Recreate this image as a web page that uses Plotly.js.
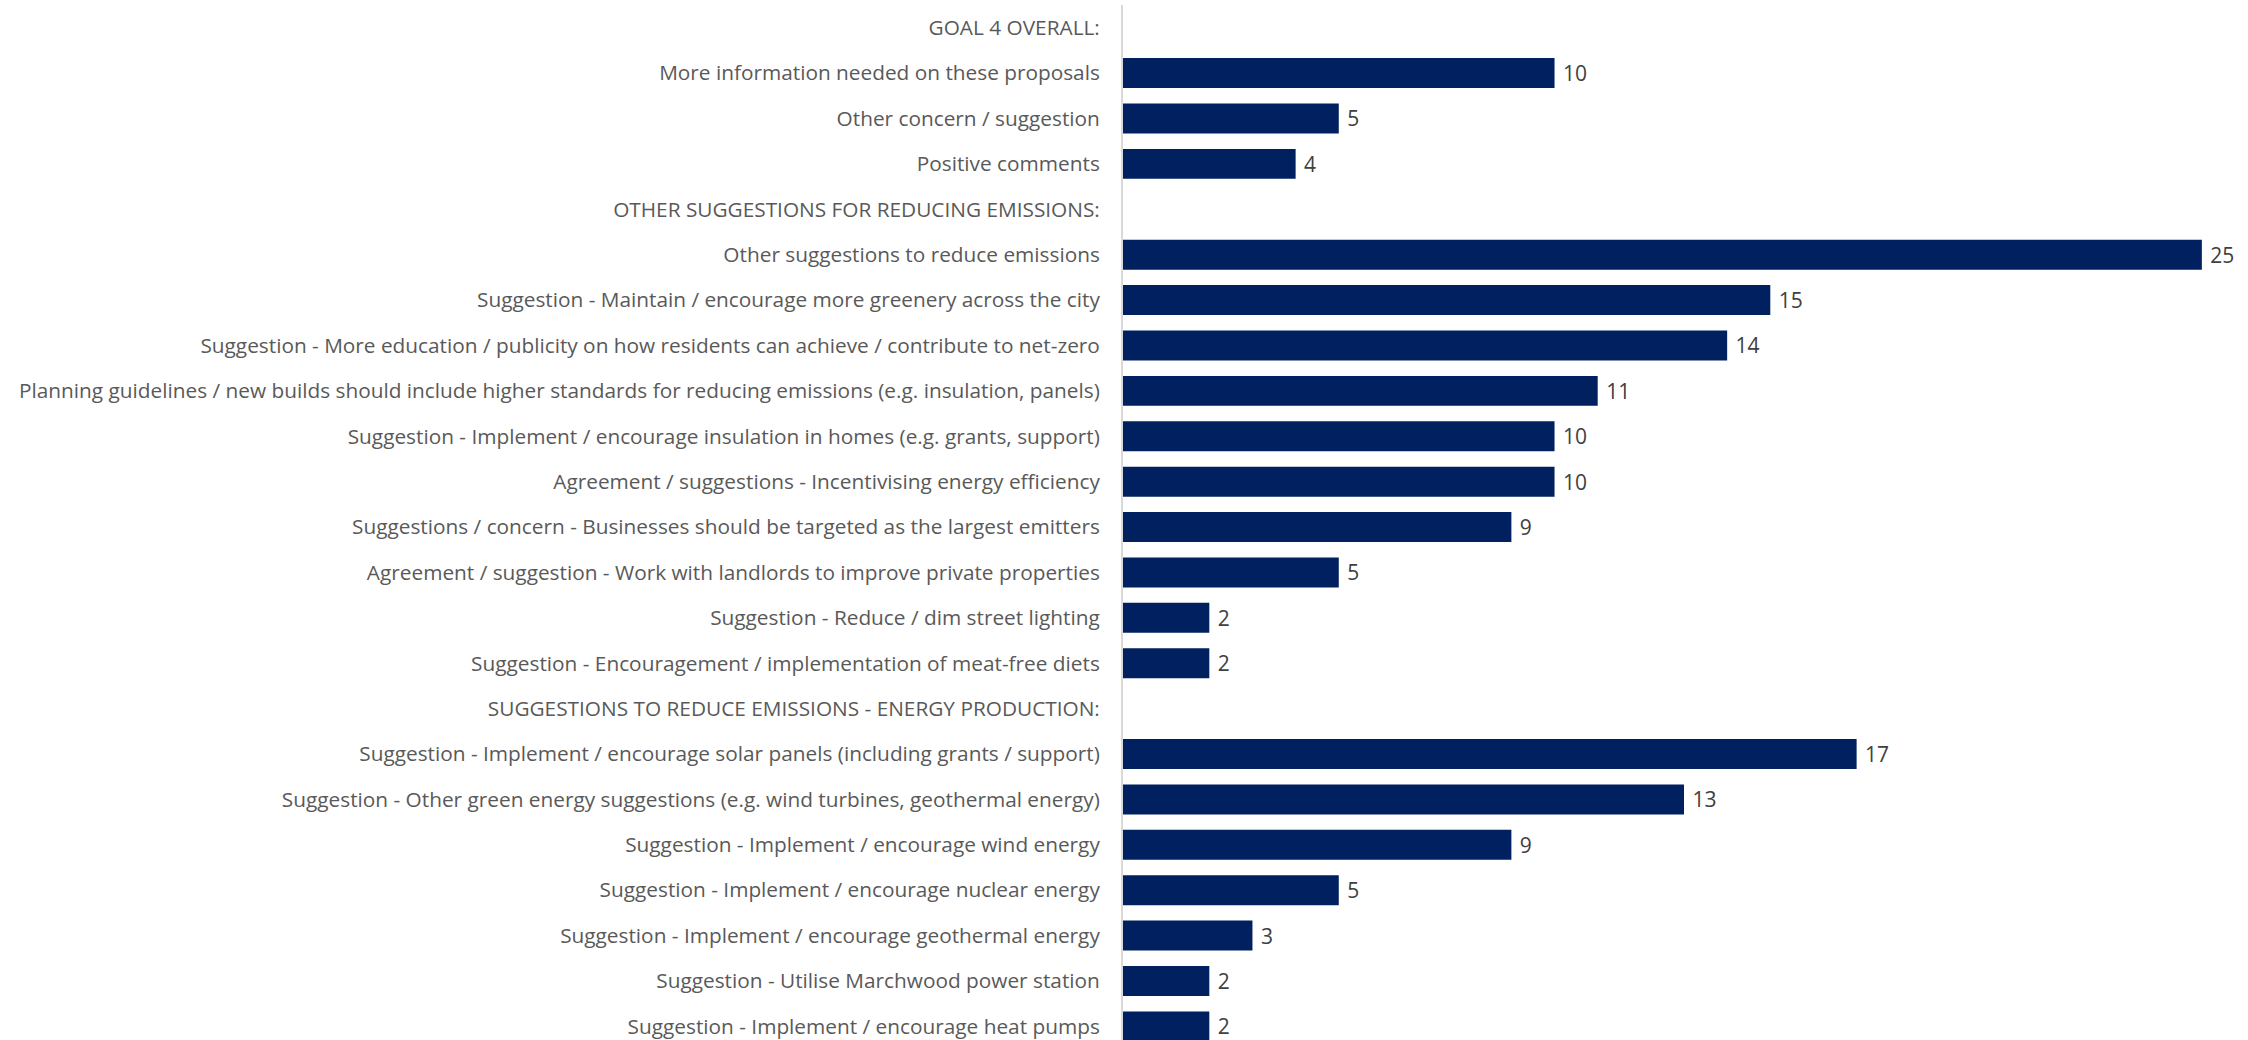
<!DOCTYPE html>
<html>
<head>
<meta charset="utf-8">
<script src="https://cdn.plot.ly/plotly-3.0.1.min.js"></script>
<style>html,body{margin:0;padding:0;background:#fff;}#chart{width:2248px;height:1040px;}</style>
</head>
<body>
<div id="chart"></div>
<script>
var categories = [
  "GOAL 4 OVERALL:",
  "More information needed on these proposals",
  "Other concern / suggestion",
  "Positive comments",
  "OTHER SUGGESTIONS FOR REDUCING EMISSIONS:",
  "Other suggestions to reduce emissions",
  "Suggestion - Maintain / encourage more greenery across the city",
  "Suggestion - More education / publicity on how residents can achieve / contribute to net-zero",
  "Planning guidelines / new builds should include higher standards for reducing emissions (e.g. insulation, panels)",
  "Suggestion - Implement / encourage insulation in homes (e.g. grants, support)",
  "Agreement / suggestions - Incentivising energy efficiency",
  "Suggestions / concern - Businesses should be targeted as the largest emitters",
  "Agreement / suggestion - Work with landlords to improve private properties",
  "Suggestion - Reduce / dim street lighting",
  "Suggestion - Encouragement / implementation of meat-free diets",
  "SUGGESTIONS TO REDUCE EMISSIONS - ENERGY PRODUCTION:",
  "Suggestion - Implement / encourage solar panels (including grants / support)",
  "Suggestion - Other green energy suggestions (e.g. wind turbines, geothermal energy)",
  "Suggestion - Implement / encourage wind energy",
  "Suggestion - Implement / encourage nuclear energy",
  "Suggestion - Implement / encourage geothermal energy",
  "Suggestion - Utilise Marchwood power station",
  "Suggestion - Implement / encourage heat pumps"
];
var counts = [null, 10, 5, 4, null, 25, 15, 14, 11, 10, 10, 9, 5, 2, 2, null, 17, 13, 9, 5, 3, 2, 2];
var labels = counts.map(function(v){ return v === null ? "" : "\u00a0" + String(v); });

var trace = {
  type: "bar",
  orientation: "h",
  y: categories,
  x: counts,
  text: labels,
  textposition: "outside",
  cliponaxis: false,
  textfont: {family: "Open Sans, sans-serif", size: 21, color: "#404040"},
  marker: {color: "#002060"},
  hoverinfo: "skip"
};

var n = categories.length;
var layout = {
  width: 2248,
  height: 1040,
  margin: {l: 1123, r: 3, t: 5, b: 0},
  paper_bgcolor: "#ffffff",
  plot_bgcolor: "#ffffff",
  showlegend: false,
  bargap: 0.34,
  xaxis: {
    range: [0, 26],
    showgrid: false,
    zeroline: false,
    showline: false,
    showticklabels: false,
    ticks: ""
  },
  yaxis: {
    type: "category",
    range: [n - 0.7, -0.5],
    showgrid: false,
    zeroline: false,
    showline: true,
    linecolor: "#d9d9d9",
    linewidth: 2,
    ticks: "",
    ticklabelstandoff: 17,
    tickfont: {family: "Open Sans, sans-serif", size: 20.8, color: "#595959"},
    automargin: false
  }
};

Plotly.newPlot("chart", [trace], layout, {displayModeBar: false, staticPlot: true});
</script>
</body>
</html>
